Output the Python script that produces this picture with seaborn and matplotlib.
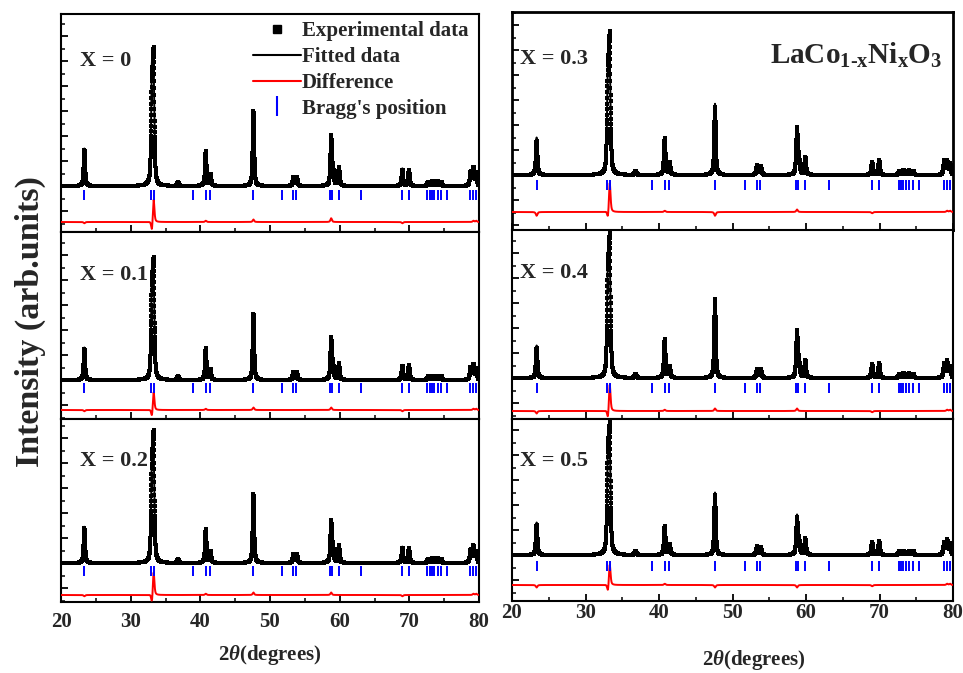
import numpy as np
import pandas as pd
import matplotlib
matplotlib.use("Agg")
import matplotlib.pyplot as plt
import seaborn as sns
from matplotlib.lines import Line2D
from matplotlib.ticker import MultipleLocator

sns.set_theme(style="ticks")
plt.rcParams["font.family"] = ["Liberation Serif", "DejaVu Serif"]
plt.rcParams["font.weight"] = "bold"
plt.rcParams["mathtext.fontset"] = "custom"
plt.rcParams["mathtext.rm"] = "Liberation Serif:bold"
plt.rcParams["mathtext.bf"] = "Liberation Serif:bold"
plt.rcParams["mathtext.it"] = "Liberation Serif:italic:bold"

# ---------------------------------------------------------------- data
compositions = ["0", "0.1", "0.2", "0.3", "0.4", "0.5"]

# reflections used for the fitted profile (2θ, degrees)
peak_pos = [23.35, 33.05, 33.3, 36.8, 40.78, 41.45, 47.62, 53.35, 53.85,
            58.78, 59.05, 59.9, 69.0, 69.95, 72.7, 73.3, 74.0, 74.6,
            78.8, 79.2, 79.6]

# calculated peak heights (arb. units) for each composition
calc_x00 = [30, 88, 80, 3, 27, 9, 58, 7, 7, 36, 12, 15, 14, 13, 3, 4, 4, 3, 11, 13, 9]
calc_x01 = [26, 79, 72, 3, 24, 8, 51, 6, 6, 31, 11, 13, 12, 12, 3, 3, 3, 3, 10, 11, 8]
calc_x02 = [29, 83, 76, 3, 26, 9, 53, 7, 7, 31, 11, 14, 13, 12, 3, 4, 4, 3, 10, 12, 8]
calc_x03 = [30, 86, 79, 3, 28, 10, 57, 8, 7, 35, 12, 14, 11, 12, 3, 4, 4, 3, 11, 10, 8]
calc_x04 = [26, 90, 82, 3, 30, 9, 61, 7, 7, 35, 12, 14, 12, 12, 3, 4, 4, 3, 11, 12, 8]
calc_x05 = [26, 85, 77, 3, 22, 8, 50, 7, 6, 31, 11, 13, 11, 11, 3, 3, 3, 3, 10, 11, 8]

# observed minus calculated height at each reflection
diff_x00 = [-1, -8, 19, 0, 1, 0, 2, 0, 0, 3, 0, 0, -1, 0, 0, 0, 0, 0, 0, 1, 1]
diff_x01 = [-1, -6, 15, 0, 1, 0, 2, 0, 0, 2, 0, 0, -1, 0, 0, 0, 0, 0, 0, 1, 1]
diff_x02 = [-1, -7, 19, 0, 1, 0, 2, 0, 0, 2, 0, 0, -1, 0, 0, 0, 0, 0, 0, 1, 1]
diff_x03 = [-3, -6, 24, 0, 1, 0, -3, 0, 0, 2, 0, 0, -1, 0, 0, 0, 0, 0, 0, 1, 1]
diff_x04 = [-2, -7, 22, 0, 1, 0, 2, 0, 0, 2, 0, 0, -1, 0, 0, 0, 0, 0, 0, 1, 1]
diff_x05 = [-2, -6, 17, 0, 1, 0, -2, 0, 0, -2, 0, 0, -1, 0, 0, 0, 0, 0, 0, 1, 1]

calc_heights = [calc_x00, calc_x01, calc_x02, calc_x03, calc_x04, calc_x05]
diff_heights = [diff_x00, diff_x01, diff_x02, diff_x03, diff_x04, diff_x05]

# Bragg reflection markers (2θ, degrees)
bragg_pos = [23.35, 32.95, 33.3, 39.0, 40.75, 41.4, 47.6, 51.75, 53.3, 53.8,
             58.65, 58.95, 59.85, 63.1, 68.95, 69.9, 72.6, 72.95, 73.25,
             73.55, 74.05, 74.5, 75.35, 78.75, 79.15, 79.55]

x_ticks = [20, 30, 40, 50, 60, 70, 80]

# ---------------------------------------------------------------- layout
W, H = 963, 673
# pixel box (x0, y0, x1, y1), y-limits, Bragg marker level, difference offset
panels = [
    ((61, 14, 479, 232), (-36.8, 137.6), -7.2, -28.8),
    ((61, 232, 479, 419), (-31.2, 118.4), -6.4, -24.0),
    ((61, 419, 479, 602), (-31.2, 115.2), -6.4, -25.6),
    ((512, 12, 953, 230), (-44.0, 130.4), -8.0, -29.6),
    ((512, 230, 953, 419), (-32.8, 118.4), -8.0, -26.4),
    ((512, 419, 953, 601), (-36.8, 108.8), -8.8, -24.0),
]

two_theta = np.arange(20.0, 80.0001, 0.01)
FWHM, ETA = 0.25, 0.6


def profile(heights):
    hw = FWHM / 2
    y = np.zeros_like(two_theta)
    for p, h in zip(peak_pos, heights):
        d = two_theta - p
        lor = 1.0 / (1.0 + (d / hw) ** 2)
        gau = np.exp(-np.log(2) * (d / hw) ** 2)
        y += h * (ETA * lor + (1 - ETA) * gau)
    return y


fig = plt.figure(figsize=(W / 100, H / 100), dpi=100)

for i, (box, ylim, bragg_y, diff_off) in enumerate(panels):
    x0, y0, x1, y1 = box
    ax = fig.add_axes([x0 / W, 1 - y1 / H, (x1 - x0) / W, (y1 - y0) / H])

    calc = profile(calc_heights[i])
    obs = profile(np.array(calc_heights[i]) + np.array(diff_heights[i]))
    df = pd.DataFrame({"tt": two_theta, "obs": obs, "calc": calc,
                       "diff": obs - calc + diff_off})

    sns.scatterplot(data=df, x="tt", y="obs", ax=ax, marker="s", s=9,
                    color="black", linewidth=0, zorder=3)
    sns.lineplot(data=df, x="tt", y="calc", ax=ax, color="black", lw=1.4,
                 estimator=None, sort=False, zorder=4)
    sns.lineplot(data=df, x="tt", y="diff", ax=ax, color="#ff0000", lw=1.4,
                 estimator=None, sort=False, zorder=4)
    ax.vlines(bragg_pos, bragg_y - 4, bragg_y + 4, color="#0000ff", lw=1.4,
              zorder=4)

    ax.set_xlim(20, 80)
    ax.set_ylim(*ylim)
    ax.set_xlabel("")
    ax.set_ylabel("")
    ax.set_xticks(x_ticks)
    ax.xaxis.set_minor_locator(MultipleLocator(5))
    ax.yaxis.set_major_locator(MultipleLocator(20))
    ax.yaxis.set_minor_locator(MultipleLocator(10))
    ax.tick_params(axis="both", which="major", direction="in", length=5,
                   width=1.3, color="black")
    ax.tick_params(axis="both", which="minor", direction="in", length=3,
                   width=1.1, color="black")
    ax.tick_params(axis="y", labelleft=False)
    bottom_row = i in (2, 5)
    ax.tick_params(axis="x", labelbottom=bottom_row, labelsize=15,
                   pad=7 if i < 3 else 1.5)
    for lab in ax.get_xticklabels():
        lab.set_fontweight("bold")
    for sp in ax.spines.values():
        sp.set_linewidth(2.0 if i == 3 else 1.5)
        sp.set_color("black")

    ax.text(0.045 if i < 3 else 0.018, 0.785 if i in (0, 3) else 0.77,
            f"X = {compositions[i]}", transform=ax.transAxes,
            fontsize=16, fontweight="bold", ha="left", va="center")

    if i == 0:
        handles = [
            Line2D([], [], ls="none", marker="s", ms=6, color="black"),
            Line2D([], [], color="black", lw=1.5),
            Line2D([], [], color="#ff0000", lw=1.5),
            Line2D([], [], ls="none", marker="|", ms=14, mew=1.5,
                   color="#0000ff"),
        ]
        labels = ["Experimental data", "Fitted data", "Difference",
                  "Bragg's position"]
        ax.legend(handles, labels, loc="upper right", frameon=False,
                  prop={"size": 15, "weight": "bold"}, handlelength=2.3,
                  handletextpad=0.05, labelspacing=0.28, borderaxespad=0.1,
                  bbox_to_anchor=(1.0, 1.015))
    if i == 3:
        ax.text(0.975, 0.80, "$\\mathbf{LaCo_{1\u2010x}Ni_{x}O_{3}}$",
                transform=ax.transAxes, fontsize=21, ha="right",
                va="center")

fig.text(30 / W, 1 - 322 / H, "Intensity (arb.units)", rotation=90,
         fontsize=24.5, fontweight="bold", ha="center", va="center")
fig.text(270 / W, 1 - 655 / H, r"2$\it{\theta}$(degrees)", fontsize=15,
         fontweight="bold", ha="center", va="center")
fig.text(754 / W, 1 - 660 / H, r"2$\it{\theta}$(degrees)", fontsize=15,
         fontweight="bold", ha="center", va="center")

fig.savefig("out.png", dpi=100, facecolor="white")
